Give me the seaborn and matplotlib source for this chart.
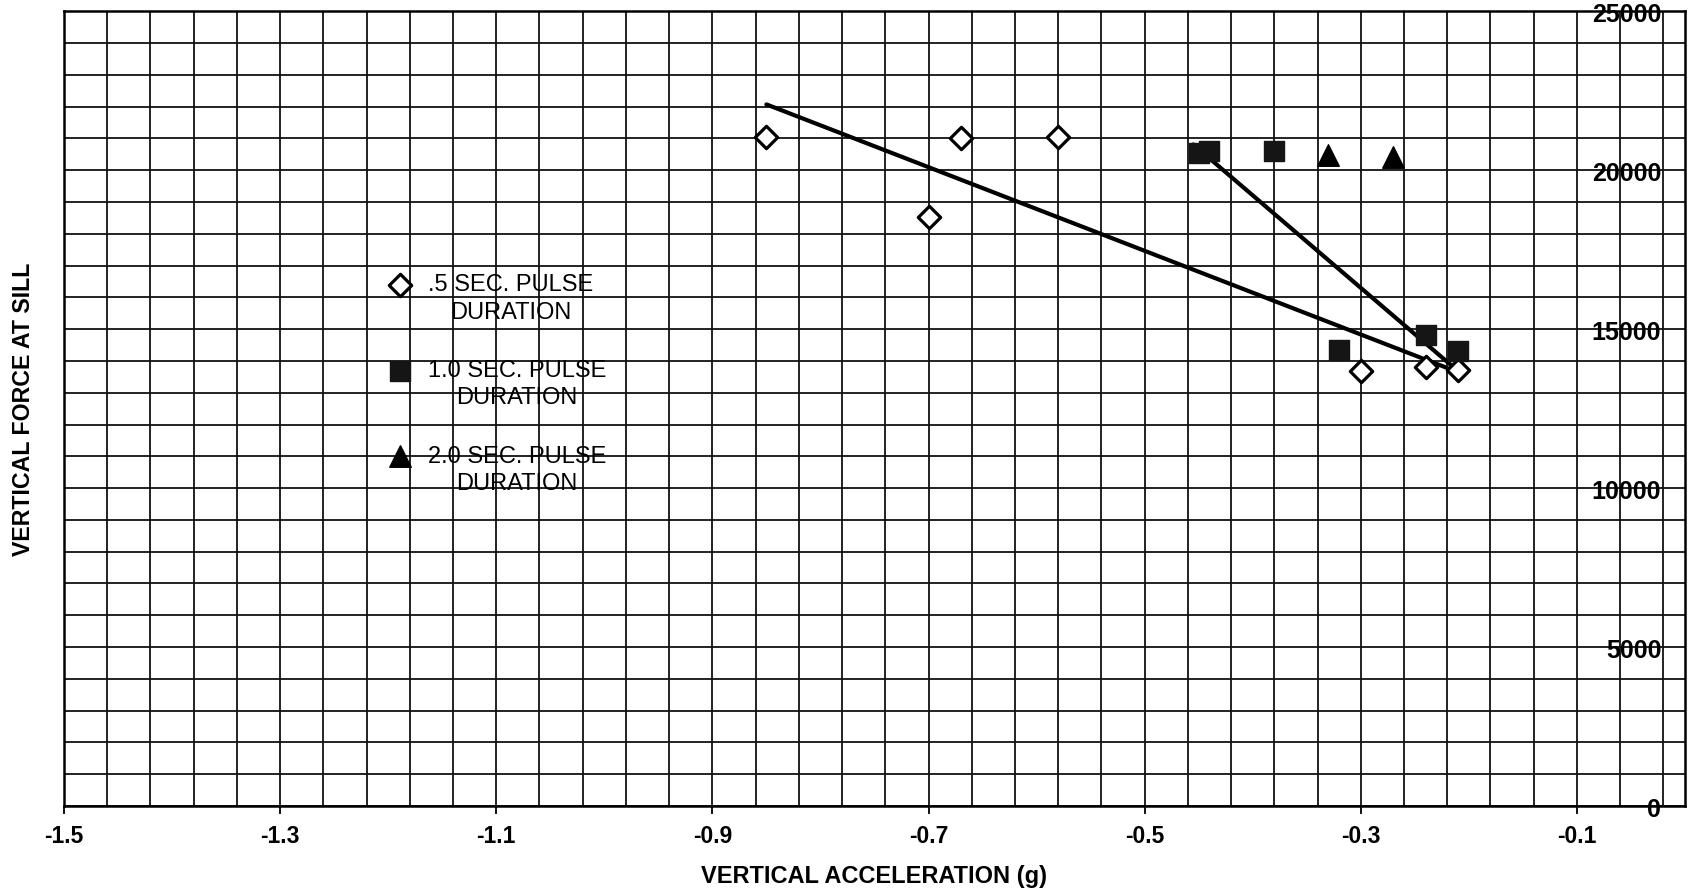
import numpy as np
import pandas as pd
import matplotlib
matplotlib.use('Agg')
import matplotlib.pyplot as plt
import seaborn as sns
from matplotlib.ticker import FixedLocator, MultipleLocator, FormatStrFormatter
from matplotlib.legend_handler import HandlerPathCollection

# readings taken off the chart (acceleration in g, force)
half_acc = [-0.85, -0.67, -0.58, -0.70, -0.30, -0.24, -0.21]
half_force = [21060, 21000, 21060, 18540, 13680, 13810, 13710]
one_acc = [-0.45, -0.44, -0.38, -0.32, -0.24, -0.21]
one_force = [20550, 20620, 20590, 14340, 14820, 14310]
two_acc = [-0.33, -0.27]
two_force = [20490, 20430]

# the two hand-drawn lines
line_a_acc = [-0.85, -0.22]
line_a_force = [22070, 13780]
line_b_acc = [-0.455, -0.21]
line_b_force = [20810, 13680]

labels = ['.5 SEC. PULSE\nDURATION', '1.0 SEC. PULSE\nDURATION', '2.0 SEC. PULSE\nDURATION']

sns.set_theme(style='white')
plt.rcParams['font.family'] = ['Liberation Sans', 'DejaVu Sans']
plt.rcParams['axes.unicode_minus'] = False
plt.rcParams['text.color'] = 'black'
plt.rcParams['axes.labelcolor'] = 'black'

fig = plt.figure(figsize=(16.88, 8.95), dpi=100)
ax = fig.add_axes([0.0379, 0.0983, 0.9603, 0.8880])

sns.lineplot(x=line_a_acc, y=line_a_force, color='black', lw=3.0, ax=ax, sort=False, estimator=None, zorder=3)
sns.lineplot(x=line_b_acc, y=line_b_force, color='black', lw=3.0, ax=ax, sort=False, estimator=None, zorder=3)

sns.scatterplot(x=half_acc, y=half_force, marker='D', s=130, color='white', edgecolor='black',
                linewidth=2.3, label=labels[0], ax=ax, zorder=4)
sns.scatterplot(x=one_acc, y=one_force, marker='s', s=190, color='#151515', edgecolor='#151515',
                linewidth=1.0, label=labels[1], ax=ax, zorder=4)
sns.scatterplot(x=two_acc, y=two_force, marker='^', s=240, color='black', edgecolor='black',
                linewidth=1.0, label=labels[2], ax=ax, zorder=4)

ax.set_xlim(-1.5, 0.0)
ax.set_ylim(0, 25000)

# x axis: labels every 0.2, grid every 0.04 starting at -1.5
ax.xaxis.set_major_locator(FixedLocator(np.round(np.arange(-1.5, -0.05, 0.2), 2)))
ax.xaxis.set_minor_locator(FixedLocator(np.round(np.arange(-1.5, 0.001, 0.04), 2)))
ax.xaxis.set_major_formatter(FormatStrFormatter('%.1f'))
ax.tick_params(axis='x', which='major', direction='out', length=6, width=1.3, color='black',
               bottom=True, pad=7, labelsize=16.5, labelcolor='black')
ax.tick_params(axis='x', which='minor', length=0)
for t in ax.get_xticklabels():
    t.set_fontweight('bold')

# y axis: labels sit inside the plot, just left of the -0.02 gridline
ax.yaxis.set_major_locator(MultipleLocator(5000))
ax.yaxis.set_minor_locator(MultipleLocator(1000))
ax.yaxis.tick_right()
ax.tick_params(axis='y', which='both', length=0, pad=-17, labelsize=18, labelcolor='black')
for t in ax.get_yticklabels():
    t.set_horizontalalignment('right')
    t.set_fontweight('bold')

ax.grid(which='both', color='#111111', lw=1.3)
ax.set_axisbelow(True)
for s in ax.spines.values():
    s.set_color('black')
    s.set_linewidth(1.8)

ax.set_xlabel('VERTICAL ACCELERATION (g)', fontsize=17, fontweight='bold', labelpad=12, color='black')
ax.set_ylabel('VERTICAL FORCE AT SILL', fontsize=16.7, fontweight='bold', labelpad=21, color='black')
ax.yaxis.set_label_position('left')

# legend marker sits level with the first line of its label
handles, _ = ax.get_legend_handles_labels()
leg = ax.legend(handles=handles, labels=labels, loc='upper left', bbox_to_anchor=(0.194, 0.682),
                frameon=False, fontsize=17, handletextpad=0.7, labelspacing=1.55, handlelength=1.0,
                borderaxespad=0, handler_map={type(handles[0]): HandlerPathCollection(yoffsets=[1.3])})
for t in leg.get_texts():
    t.set_multialignment('center')
    t.set_linespacing(1.3)
    t.set_color('black')

plt.savefig('out.png', dpi=100)
